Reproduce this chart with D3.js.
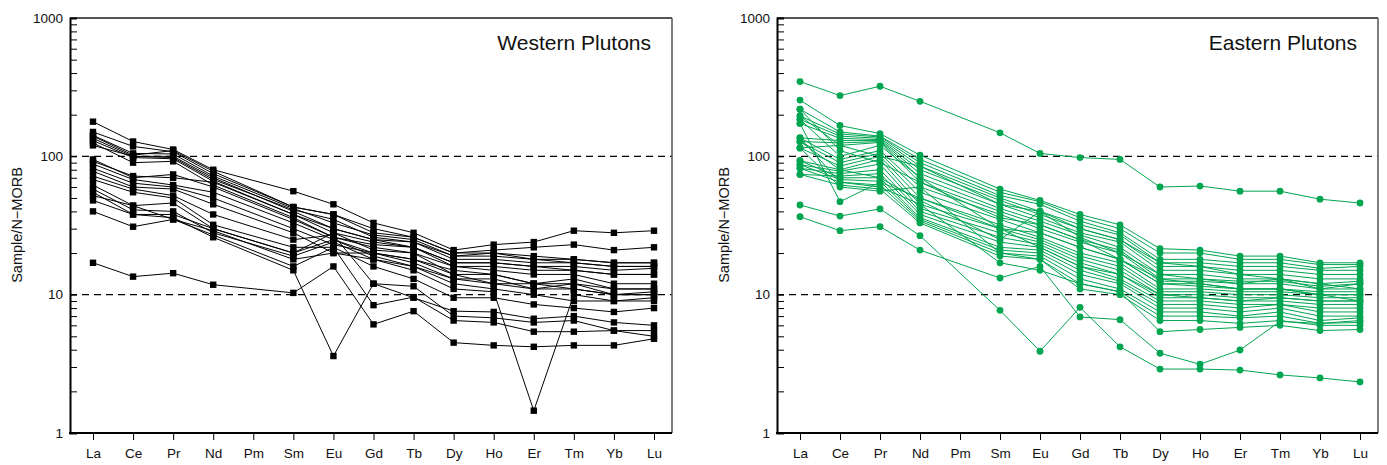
<!DOCTYPE html>
<html>
<head>
<meta charset="utf-8">
<script src="https://d3js.org/d3.v7.min.js"></script>
<style>
  body { margin: 0; background: #fff; }
  text { font-family: "Liberation Sans", Arial, sans-serif; fill: #111; }
</style>
</head>
<body>
<svg id="chart" width="1387" height="465"></svg>
<script>

// REE pattern, Pm is not measured
var elements = ["La", "Ce", "Pr", "Nd", "Pm", "Sm", "Eu", "Gd", "Tb", "Dy", "Ho", "Er", "Tm", "Yb", "Lu"];
var yTicks = [1, 10, 100, 1000];
var refLines = [10, 100];

// values, one row per sample (La..Lu, Pm = null)
var western = [
  [178, 128, 112, 80, null, 56, 45, 33, 28, 21, 23, 24, 29, 28, 29],
  [150, 118, 108, 75, null, 43, 38, 30, 26, 20, 21, 22, 23, 21, 22],
  [142, 105, 104, 72, null, 42, 33, 27, 25, 19, 20, 19, 18, 17, 17],
  [135, 100, 100, 70, null, 40, 30, 25, 24, 18, 18, 17, 17, 16, 16],
  [130, 98, 96, 66, null, 38, 28, 24, 22, 17, 17, 16, 16, 15, 15.5],
  [125, 90, 92, 62, null, 36, 26, 22, 20, 16, 16, 15, 15, 14, 14],
  [140, 102, 110, 78, null, 43, 38, 28, 26, 20, 20, 18, 18, 17, 17],
  [120, 100, 98, 68, null, 41, 35, 26, 24, 19, 19, 18, 17, 16, 16],
  [95, 70, 74, 60, null, 35, 26, 23, 22, 16, 15, 14, 14, 12, 12],
  [92, 72, 70, 65, null, 38, 30, 25, 22, 17, 17, 16, 15, 14, 14],
  [88, 68, 62, 55, null, 33, 25, 20, 18, 15, 14, 12, 13, 11, 11],
  [82, 64, 60, 50, null, 30, 23, 20, 18, 14, 12, 11, 12, 10, 10.5],
  [78, 60, 58, 45, null, 28, 20, 18, 16, 13, 12, 12, 11, 10, 10],
  [72, 58, 52, 38, null, 25, 27, 12, 9.5, 7.6, 7.5, 6.7, 7, 6.3, 6],
  [68, 55, 50, 32, null, 22, 22, 8.4, 9.6, 6.5, 6.3, 5.4, 5.4, 5.5, 5.5],
  [62, 44, 46, 30, null, 20, 25, 19, 16, 12, 11, 10, 9, 9, 9.5],
  [58, 41, 40, 28, null, 19, 24, 18, 15, 11, 10.5, 1.45, 10, 9, 9],
  [55, 38, 38, 30, null, 20, 28, 21, 20, 14, 14, 12, 12, 11, 11],
  [52, 44, 35, 27, null, 16, 22, 16, 13, 9.5, 9.5, 8.5, 8, 7.5, 8],
  [48, 38, 36, 26, null, 15, 3.6, 12, 11.5, 7, 6.8, 6.3, 6.5, 5.5, 5],
  [40, 31, 35, 29, null, 18, 20, 20, 17, 13, 13, 11, 11, 10, 10],
  [17, 13.5, 14.3, 11.8, null, 10.3, 16, 6.1, 7.6, 4.5, 4.3, 4.2, 4.3, 4.3, 4.8]
];

var eastern = [
  [347, 275, 321, 250, null, 148, 105, 98, 95, 60, 61, 56, 56, 49, 46],
  [255, 167, 146, 102, null, 58, 48, 38, 32, 21.5, 21, 19, 19, 17, 17],
  [219, 150, 140, 95, null, 55, 47, 36, 30, 20, 20, 18, 18, 16.5, 16.5],
  [196, 145, 138, 90, null, 52, 45, 34, 28, 18, 18, 17, 17, 15.5, 16],
  [185, 140, 135, 85, null, 50, 40, 32, 27, 17, 17, 16, 16, 15, 15],
  [173, 47, 65, 50, null, 30, 28, 22, 18, 12, 12, 11, 11, 10, 10],
  [173, 135, 132, 80, null, 48, 38, 30, 25, 16, 16, 15, 15, 14, 14],
  [136, 130, 130, 75, null, 45, 36, 28, 24, 15, 15, 14, 14, 13, 13],
  [128, 125, 128, 70, null, 42, 34, 27, 22, 14, 14, 13, 13, 12, 12.5],
  [115, 120, 126, 65, null, 40, 32, 25, 21, 13, 13, 12.5, 12.5, 11.5, 12],
  [136, 95, 110, 60, null, 38, 30, 24, 20, 12.5, 12.5, 12, 12, 11, 11],
  [128, 90, 105, 55, null, 35, 28, 22, 18, 12, 11.5, 11, 11, 10.5, 10.5],
  [115, 85, 100, 50, null, 32, 26, 20, 17, 11, 11, 10.5, 10.5, 10, 10],
  [93, 80, 95, 45, null, 30, 25, 19, 16, 10.5, 10.5, 10, 10, 9.5, 9.5],
  [87, 78, 88, 42, null, 28, 24, 18, 15, 10, 10, 9.5, 9.5, 9, 9],
  [82, 75, 80, 40, null, 26, 23, 17, 14, 9.5, 9.5, 9, 9, 8.5, 8.5],
  [74, 72, 75, 38, null, 24, 22, 16, 13, 9, 9, 8.5, 8.5, 8, 8],
  [93, 70, 70, 36, null, 22, 21, 15, 12.5, 8.5, 8.5, 8, 8.5, 7.5, 7.5],
  [87, 68, 66, 35, null, 21, 20, 14, 12, 8, 8, 7.5, 8, 7, 7],
  [82, 65, 62, 34, null, 20, 19, 13, 11, 7.5, 7.5, 7, 7.5, 6.5, 6.8],
  [74, 62, 58, 33, null, 19, 18, 12, 10.5, 7, 7, 6.8, 7, 6.2, 6.3],
  [115, 60, 56, 60, null, 20, 18, 11, 10, 6.5, 6.5, 6.2, 6.5, 6, 6],
  [185, 100, 120, 70, null, 30, 22, 16, 14, 10, 9.5, 9, 9.5, 9, 9],
  [136, 65, 60, 45, null, 17, 15, 12, 10.5, 5.4, 5.6, 5.8, 6, 5.5, 5.6],
  [196, 120, 100, 85, null, 45, 40, 30, 25, 17, 16, 14, 13, 12, 11],
  [128, 80, 70, 48, null, 25, 40, 26, 20, 14, 13, 12, 13, 11, 12],
  [219, 110, 90, 65, null, 36, 32, 25, 18, 13, 12, 11, 11, 10, 9],
  [44.5, 37, 41.7, 26.7, null, 7.7, 3.9, 8.1, 4.2, 2.9, 2.9, 2.85, 2.63, 2.5, 2.34],
  [36.6, 29, 31, 21, null, 13.2, 16, 6.9, 6.6, 3.77, 3.14, 3.98, 6.4, 6.2, 6.5]
];

var svg = d3.select("#chart");

function drawPanel(opts) {
  var g = svg.append("g");
  var x = d3.scalePoint().domain(elements).range([opts.left + 23, opts.right - 18]);
  var y = d3.scaleLog().domain([1, 1000]).range([433, 18]);

  // reference lines at 10 and 100
  g.selectAll(".ref").data(refLines).enter().append("line")
    .attr("x1", opts.left).attr("x2", opts.right)
    .attr("y1", function(d) { return y(d); }).attr("y2", function(d) { return y(d); })
    .attr("stroke", "#000").attr("stroke-width", 1.2)
    .attr("stroke-dasharray", "7,5");

  var line = d3.line()
    .x(function(d) { return x(d.el); })
    .y(function(d) { return y(d.v); });

  opts.data.forEach(function(row) {
    var pts = row.map(function(v, i) { return {el: elements[i], v: v}; })
                 .filter(function(d) { return d.v != null; });
    g.append("path").datum(pts)
      .attr("d", line)
      .attr("fill", "none")
      .attr("stroke", opts.color)
      .attr("stroke-width", opts.lineWidth);
    if (opts.marker == "square") {
      g.selectAll(null).data(pts).enter().append("rect")
        .attr("x", function(d) { return x(d.el) - 3.2; })
        .attr("y", function(d) { return y(d.v) - 3.2; })
        .attr("width", 6.4).attr("height", 6.4)
        .attr("fill", opts.color);
    } else {
      g.selectAll(null).data(pts).enter().append("circle")
        .attr("cx", function(d) { return x(d.el); })
        .attr("cy", function(d) { return y(d.v); })
        .attr("r", 3.4)
        .attr("fill", opts.color);
    }
  });

  // frame: top and right in grey, axes in black
  g.append("line").attr("x1", opts.left).attr("x2", opts.right).attr("y1", 18).attr("y2", 18)
    .attr("stroke", "#555").attr("stroke-width", 1.8);
  g.append("line").attr("x1", opts.right).attr("x2", opts.right).attr("y1", 18).attr("y2", 433)
    .attr("stroke", "#555").attr("stroke-width", 1.5);

  var yAxis = d3.axisLeft(y)
    .tickValues(d3.range(1, 11).concat(d3.range(20, 101, 10), d3.range(200, 1001, 100)))
    .tickSize(-7)
    .tickFormat(function(d) { return yTicks.indexOf(d) >= 0 ? d : ""; });
  var ya = g.append("g").attr("transform", "translate(" + opts.left + ",0)").call(yAxis);
  ya.select(".domain").attr("stroke", "#000").attr("stroke-width", 2);
  ya.selectAll(".tick line").attr("stroke", "#000").attr("stroke-width", 1);
  ya.selectAll(".tick text").attr("x", -7).attr("font-size", 13.5)
    .attr("font-family", "Liberation Sans, Arial, sans-serif");

  var xAxis = d3.axisBottom(x).tickSize(7).tickPadding(8);
  var xa = g.append("g").attr("transform", "translate(0,433)").call(xAxis);
  xa.select(".domain").remove();
  g.append("line").attr("x1", opts.left - 1).attr("x2", opts.right).attr("y1", 433).attr("y2", 433)
    .attr("stroke", "#000").attr("stroke-width", 2);
  xa.selectAll(".tick line").attr("stroke", "#000");
  xa.selectAll(".tick text").attr("font-size", 13.5)
    .attr("font-family", "Liberation Sans, Arial, sans-serif");

  g.append("text")
    .attr("transform", "translate(" + opts.labelX + ",225) rotate(-90)")
    .attr("text-anchor", "middle")
    .attr("font-size", 14.5)
    .text("Sample/N\u2212MORB");

  g.append("text")
    .attr("x", opts.right - 21).attr("y", 50)
    .attr("text-anchor", "end")
    .attr("font-size", 21)
    .text(opts.title);
}

drawPanel({left: 70, right: 672, labelX: 22, data: western, color: "#000", lineWidth: 1,
           marker: "square", title: "Western Plutons"});
drawPanel({left: 777, right: 1378, labelX: 729, data: eastern, color: "#00a550", lineWidth: 1,
           marker: "circle", title: "Eastern Plutons"});

</script>
</body>
</html>
